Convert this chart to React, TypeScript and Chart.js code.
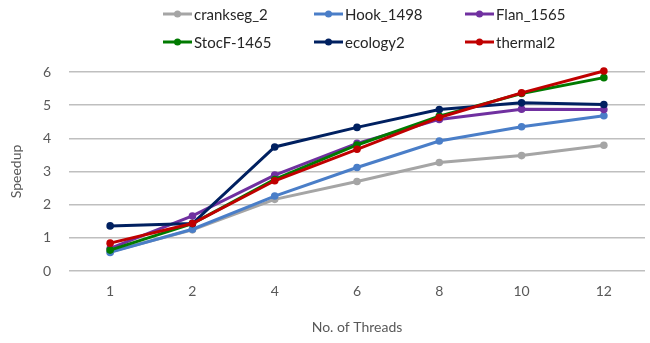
import React, { useEffect, useRef } from "react";
import { Chart, registerables } from "chart.js";

Chart.register(...registerables);

const threads = ["1", "2", "4", "6", "8", "10", "12"];
const seriesNames = ["crankseg_2", "Hook_1498", "Flan_1565", "StocF-1465", "ecology2", "thermal2"];
const crankseg = [0.58, 1.24, 2.16, 2.7, 3.27, 3.48, 3.79];
const hook = [0.56, 1.26, 2.26, 3.12, 3.92, 4.35, 4.68];
const flan = [0.68, 1.66, 2.89, 3.85, 4.57, 4.88, 4.87];
const stocf = [0.63, 1.43, 2.76, 3.8, 4.67, 5.35, 5.83];
const ecology = [1.36, 1.43, 3.74, 4.33, 4.87, 5.07, 5.02];
const thermal = [0.84, 1.43, 2.72, 3.67, 4.63, 5.37, 6.03];
const colors = ["#A5A5A5", "#4A7EC8", "#7030A0", "#007A00", "#002060", "#C00000"];
const yTicks = [0, 1, 2, 3, 4, 5, 6];

const FONT = "Lato, 'Open Sans', sans-serif";

const legendPlugin = {
  id: "gridLegend",
  afterDraw(chart: any) {
    const ctx = chart.ctx;
    ctx.save();
    chart.data.datasets.forEach((ds: any, i: number) => {
      const col = i % 3;
      const row = Math.floor(i / 3);
      const x0 = 163 + col * 151;
      const y = 14 + row * 28;
      ctx.strokeStyle = ds.borderColor;
      ctx.lineWidth = 3;
      ctx.beginPath();
      ctx.moveTo(x0, y);
      ctx.lineTo(x0 + 29, y);
      ctx.stroke();
      ctx.fillStyle = ds.borderColor;
      ctx.beginPath();
      ctx.arc(x0 + 14.5, y, 3.5, 0, Math.PI * 2);
      ctx.fill();
      ctx.fillStyle = "#262626";
      ctx.font = `15px ${FONT}`;
      ctx.textBaseline = "middle";
      ctx.textAlign = "left";
      ctx.fillText(ds.label, x0 + 31, y + 1);
    });
    ctx.restore();
  },
};

export default function App() {
  const ref = useRef<HTMLCanvasElement>(null);
  useEffect(() => {
    const all = [crankseg, hook, flan, stocf, ecology, thermal];
    const chart = new Chart(ref.current!, {
      type: "line",
      data: {
        labels: threads,
        datasets: all.map((d, i) => ({
          label: seriesNames[i],
          data: d,
          borderColor: colors[i],
          backgroundColor: colors[i],
          borderWidth: 3,
          pointRadius: 3.8,
          pointBorderWidth: 0,
          pointBackgroundColor: colors[i],
          tension: 0,
          clip: false,
          order: 5 - i,
        })),
      },
      options: {
        responsive: false,
        animation: false,
        layout: { padding: { top: 72, right: 5, left: 0, bottom: 0 } },
        plugins: { legend: { display: false }, tooltip: { enabled: false } },
        scales: {
          x: {
            offset: true,
            grid: { display: false, drawTicks: false, offset: true },
            border: { display: false },
            ticks: { color: "#595959", font: { family: FONT, size: 14 }, padding: 12 },
            title: {
              display: true,
              text: "No. of Threads",
              color: "#595959",
              font: { family: FONT, size: 14 },
              padding: { top: 0, bottom: 7 },
            },
            afterFit(scale: any) {
              scale.height = 72;
            },
          },
          y: {
            min: 0,
            max: 6,
            afterBuildTicks(scale: any) {
              scale.ticks = yTicks.map((v) => ({ value: v }));
            },
            grid: { color: "#BFBFBF", lineWidth: 1.5, drawTicks: false },
            border: { display: false },
            ticks: { color: "#595959", font: { family: FONT, size: 14 }, padding: 18 },
            title: {
              display: true,
              text: "Speedup",
              color: "#595959",
              font: { family: FONT, size: 14 },
              padding: { top: 8, bottom: 0 },
            },
            afterFit(scale: any) {
              scale.width = 69;
            },
          },
        },
      },
      plugins: [legendPlugin],
    });
    return () => chart.destroy();
  }, []);
  return (
    <div style={{ position: "fixed", left: 0, top: 0, width: 650, height: 343, background: "#fff" }}>
      <canvas ref={ref} width={650} height={343} style={{ width: 650, height: 343 }} />
    </div>
  );
}
